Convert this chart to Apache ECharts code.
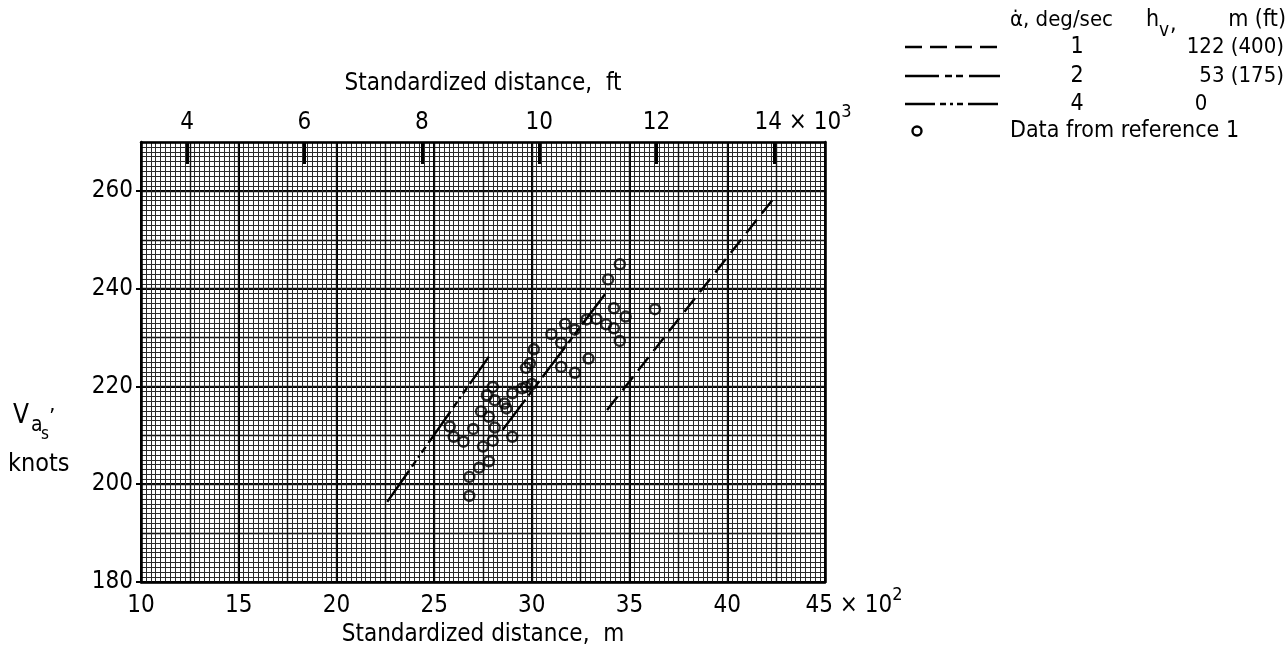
<!DOCTYPE html>
<html>
<head>
<meta charset="utf-8">
<script src="https://cdn.jsdelivr.net/npm/echarts@6/dist/echarts.min.js"></script>
<style>
  html, body { margin: 0; padding: 0; background: #fff; }
  #chart { width: 1288px; height: 663px; }
</style>
</head>
<body>
<div id="chart"></div>
<script>
// ---- tick values ----
const meterTicks = [10, 15, 20, 25, 30, 35, 40, 45];   // standardized distance, x10^2 m
const feetTicks = [4, 6, 8, 10, 12, 14];                // standardized distance, x10^3 ft
const speedTicks = [180, 200, 220, 240, 260];           // V_as, knots

// ---- data from reference 1: distance (x10^2 m), speed (knots) ----
const refDistance = [34.5, 33.9, 36.3, 34.2, 34.8, 33.3, 33.8, 34.2, 34.5, 32.8,
                     32.2, 31.7, 31.0, 31.5, 30.1, 29.9, 29.7, 32.9, 31.5, 32.2,
                     29.5, 29.7, 30.0, 28.0, 27.7, 29.0, 28.1, 28.6, 28.7, 27.4,
                     27.8, 25.8, 27.0, 28.1, 26.0, 26.5, 29.0, 28.0, 27.5, 27.8,
                     27.3, 26.8, 26.8];
const refSpeed = [245.0, 241.9, 235.8, 236.0, 234.3, 233.8, 232.7, 231.9, 229.3, 233.7,
                  231.6, 232.8, 230.7, 228.9, 227.6, 224.7, 223.8, 225.7, 224.0, 222.8,
                  219.6, 219.9, 220.5, 219.9, 218.2, 218.6, 217.2, 216.5, 215.5, 214.9,
                  213.8, 211.8, 211.3, 211.6, 209.7, 208.7, 209.7, 208.9, 207.7, 204.7,
                  203.4, 201.5, 197.6];

// ---- computed lines for each pitch rate ----
const rate1Distance = [33.85, 42.3];   // alpha-dot 1 deg/sec, hv 122 m
const rate1Speed = [215.2, 258.1];
const rate2Distance = [28.5, 33.9];    // alpha-dot 2 deg/sec, hv 53 m
const rate2Speed = [211.1, 239.7];
const rate4Distance = [22.6, 27.8];    // alpha-dot 4 deg/sec, hv 0
const rate4Speed = [196.4, 226.1];

// ---- legend text ----
const legendRates = ['1', '2', '4'];
const legendHeights = ['122 (400)', '53 (175)', '0'];
const legendDataLabel = 'Data from reference 1';

const FONT = "'DejaVu Sans Condensed', 'Liberation Sans Narrow', sans-serif";
const INK = '#000';

const dash1 = [17, 8];
const dash2 = [38, 5, 7, 4, 7, 5];
const dash4 = [38, 5, 7, 4, 2, 4, 7, 5];

function pairs(xs, ys) { return xs.map((x, i) => [x, ys[i]]); }

const labelRich = {
  n:   { fontFamily: FONT, fontSize: 24, lineHeight: 40, verticalAlign: 'middle', color: INK },
  m:   { fontFamily: FONT, fontSize: 24, lineHeight: 40, verticalAlign: 'middle', color: INK },
  sup: { fontFamily: FONT, fontSize: 18, lineHeight: 18, verticalAlign: 'top', color: INK },
  pad: { width: 58 }
};

const chart = echarts.init(document.getElementById('chart'), null, { renderer: 'canvas' });

const option = {
  animation: false,
  backgroundColor: '#fff',
  grid: { left: 141, right: 463, top: 142, bottom: 81 },
  xAxis: [
    {   // bottom: metres
      type: 'value', position: 'bottom', min: 10, max: 45, interval: 5,
      axisLine: { show: true, onZero: false, lineStyle: { color: INK, width: 2.5 } },
      axisTick: { show: false },
      axisLabel: {
        margin: 4,
        formatter: v => v === 45 ? '{pad|}{n|45}{m| \u00d7 10}{sup|2}' : '{n|' + v + '}',
        rich: labelRich
      },
      splitLine: { show: true, lineStyle: { color: INK, width: 2 } },
      name: 'Standardized distance,  m', nameLocation: 'middle', nameGap: 37,
      nameTextStyle: { fontFamily: FONT, fontSize: 24, color: INK }
    },
    {   // top: feet
      type: 'value', position: 'top', min: 3.216, max: 14.869,
      axisLine: { show: true, onZero: false, lineStyle: { color: INK, width: 2.5 } },
      axisTick: { show: true, inside: true, length: 22, customValues: feetTicks,
                  lineStyle: { color: INK, width: 3 } },
      axisLabel: {
        margin: -1, customValues: feetTicks,
        formatter: v => v === 14 ? '{pad|}{n|14}{m| \u00d7 10}{sup|3}' : '{n|' + v + '}',
        rich: labelRich
      },
      splitLine: { show: false },
      name: 'Standardized distance,  ft', nameLocation: 'middle', nameGap: 46,
      nameTextStyle: { fontFamily: FONT, fontSize: 24, color: INK }
    },
    {   // graph-paper rulings
      type: 'value', position: 'bottom', min: 10, max: 45, interval: 2.5,
      axisLine: { show: false }, axisTick: { show: false }, axisLabel: { show: false },
      splitLine: { show: true, lineStyle: { color: '#111', width: 1.4 } },
      minorTick: { show: false, splitNumber: 10 },
      minorSplitLine: { show: true, lineStyle: { color: '#2a2a2a', width: 1 } }
    }
  ],
  yAxis: [
    {
      type: 'value', position: 'left', min: 180, max: 270, interval: 20,
      axisLine: { show: true, onZero: false, lineStyle: { color: INK, width: 2.5 } },
      axisTick: { show: true, length: 5, customValues: speedTicks, lineStyle: { color: INK, width: 2 } },
      axisLabel: { margin: 8, customValues: speedTicks, fontFamily: FONT, fontSize: 24, color: INK },
      splitLine: { show: true, lineStyle: { color: INK, width: 2 } }
    },
    {   // graph-paper rulings
      type: 'value', position: 'right', min: 180, max: 270, interval: 10,
      axisLine: { show: true, onZero: false, lineStyle: { color: INK, width: 2.5 } },
      axisTick: { show: false }, axisLabel: { show: false },
      splitLine: { show: true, lineStyle: { color: '#111', width: 1.4 } },
      minorTick: { show: false, splitNumber: 10 },
      minorSplitLine: { show: true, lineStyle: { color: '#2a2a2a', width: 1 } }
    }
  ],
  series: [
    {
      name: 'rate 1', type: 'line', xAxisIndex: 0, yAxisIndex: 0, silent: true,
      data: pairs(rate1Distance, rate1Speed), symbol: 'none',
      lineStyle: { color: INK, width: 2.4, type: dash1 }
    },
    {
      name: 'rate 2', type: 'line', xAxisIndex: 0, yAxisIndex: 0, silent: true,
      data: pairs(rate2Distance, rate2Speed), symbol: 'none',
      lineStyle: { color: INK, width: 2.4, type: dash2 }
    },
    {
      name: 'rate 4', type: 'line', xAxisIndex: 0, yAxisIndex: 0, silent: true,
      data: pairs(rate4Distance, rate4Speed), symbol: 'none',
      lineStyle: { color: INK, width: 2.4, type: dash4 }
    },
    {
      name: legendDataLabel, type: 'scatter', xAxisIndex: 0, yAxisIndex: 0, silent: true,
      data: pairs(refDistance, refSpeed), symbol: 'circle', symbolSize: 10,
      itemStyle: { color: 'rgba(255,255,255,0)', borderColor: INK, borderWidth: 2.4 }
    }
  ],
  graphic: [
    // y-axis title
    { type: 'text', x: 13, y: 416, style: { text: 'V', fontFamily: FONT, fontSize: 26, fill: INK, textVerticalAlign: 'middle' } },
    { type: 'text', x: 31, y: 426, style: { text: 'a', fontFamily: FONT, fontSize: 21, fill: INK, textVerticalAlign: 'middle' } },
    { type: 'text', x: 41, y: 435, style: { text: 's', fontFamily: FONT, fontSize: 17, fill: INK, textVerticalAlign: 'middle' } },
    { type: 'text', x: 49, y: 418, style: { text: '\u2019', fontFamily: FONT, fontSize: 22, fill: INK, textVerticalAlign: 'middle' } },
    { type: 'text', x: 8, y: 464, style: { text: 'knots', fontFamily: FONT, fontSize: 25, fill: INK, textVerticalAlign: 'middle' } },

    // legend header
    { type: 'text', x: 1010, y: 20, style: { text: '\u03b1\u0307, deg/sec', fontFamily: FONT, fontSize: 22, fill: INK, textVerticalAlign: 'middle' } },
    { type: 'text', x: 1146, y: 20, style: { text: 'h', fontFamily: FONT, fontSize: 23, fill: INK, textVerticalAlign: 'middle' } },
    { type: 'text', x: 1159, y: 31, style: { text: 'v', fontFamily: FONT, fontSize: 19, fill: INK, textVerticalAlign: 'middle' } },
    { type: 'text', x: 1170, y: 24, style: { text: ',', fontFamily: FONT, fontSize: 23, fill: INK, textVerticalAlign: 'middle' } },
    { type: 'text', x: 1286, y: 20, style: { text: 'm (ft)', fontFamily: FONT, fontSize: 23, fill: INK, textAlign: 'right', textVerticalAlign: 'middle' } },

    // legend samples
    { type: 'line', shape: { x1: 905, y1: 47, x2: 1000, y2: 47 }, style: { stroke: INK, lineWidth: 2.5, lineDash: dash1 } },
    { type: 'line', shape: { x1: 905, y1: 76, x2: 1000, y2: 76 }, style: { stroke: INK, lineWidth: 2.5, lineDash: [34, 6, 7, 4, 7, 6] } },
    { type: 'line', shape: { x1: 905, y1: 104, x2: 1000, y2: 104 }, style: { stroke: INK, lineWidth: 2.5, lineDash: [30, 5, 6, 4, 3, 4, 6, 5] } },
    { type: 'circle', shape: { cx: 917, cy: 131, r: 4.5 }, style: { stroke: INK, lineWidth: 2.4, fill: 'none' } },

    // legend values
    { type: 'text', x: 1077, y: 47, style: { text: legendRates[0], fontFamily: FONT, fontSize: 23, fill: INK, textAlign: 'center', textVerticalAlign: 'middle' } },
    { type: 'text', x: 1077, y: 76, style: { text: legendRates[1], fontFamily: FONT, fontSize: 23, fill: INK, textAlign: 'center', textVerticalAlign: 'middle' } },
    { type: 'text', x: 1077, y: 104, style: { text: legendRates[2], fontFamily: FONT, fontSize: 23, fill: INK, textAlign: 'center', textVerticalAlign: 'middle' } },
    { type: 'text', x: 1284, y: 47, style: { text: legendHeights[0], fontFamily: FONT, fontSize: 22, fill: INK, textAlign: 'right', textVerticalAlign: 'middle' } },
    { type: 'text', x: 1284, y: 76, style: { text: legendHeights[1], fontFamily: FONT, fontSize: 22, fill: INK, textAlign: 'right', textVerticalAlign: 'middle' } },
    { type: 'text', x: 1201, y: 104, style: { text: legendHeights[2], fontFamily: FONT, fontSize: 22, fill: INK, textAlign: 'center', textVerticalAlign: 'middle' } },
    { type: 'text', x: 1010, y: 131, style: { text: legendDataLabel, fontFamily: FONT, fontSize: 23, fill: INK, textVerticalAlign: 'middle' } }
  ]
};

chart.setOption(option);
</script>
</body>
</html>
